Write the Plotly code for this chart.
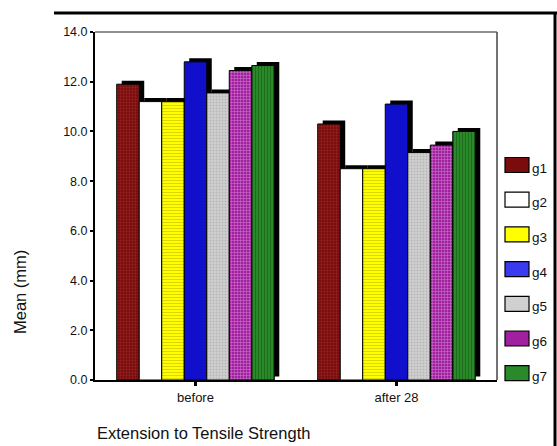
import plotly.graph_objects as go

categories = ["before", "after 28"]
groups = ["g1", "g2", "g3", "g4", "g5", "g6", "g7"]
g1 = [11.9, 10.3]
g2 = [11.2, 8.5]
g3 = [11.2, 8.5]
g4 = [12.8, 11.1]
g5 = [11.55, 9.15]
g6 = [12.45, 9.45]
g7 = [12.65, 10.0]
y_ticks = [0, 2, 4, 6, 8, 10, 12, 14]

series = [g1, g2, g3, g4, g5, g6, g7]
styles = [
    dict(color="#7a0c0c", pattern=dict(shape=".", fgcolor="#b04040", size=3, solidity=0.3)),
    dict(color="#ffffff", pattern=dict(shape="")),
    dict(color="#ffff00", pattern=dict(shape="-", fgcolor="#b8b000", size=3, solidity=0.35)),
    dict(color="#1010cc", pattern=dict(shape="")),
    dict(color="#d0d0d0", pattern=dict(shape=".", fgcolor="#989898", size=3, solidity=0.3)),
    dict(color="#a020a0", pattern=dict(shape="+", fgcolor="#f0c0f0", size=3, solidity=0.35)),
    dict(color="#2a8a2a", pattern=dict(shape="|", fgcolor="#105010", size=3, solidity=0.35)),
]

W, H = 557, 446
L, R, T, B = 95, 60, 32, 66
pw, ph = W - L - R, H - T - B

bw = 0.112            # bar width in category units
n = len(groups)
dx = 5.0 / (pw / 2)   # shadow offset, ~5px right
dy = 3.5 / (ph / 14)  # shadow offset, ~3.5px up

fig = go.Figure()
xs = list(range(len(categories)))

# shadows
for j, vals in enumerate(series):
    fig.add_trace(go.Bar(
        x=[i + (j - (n - 1) / 2) * bw + dx for i in xs],
        y=vals, base=[dy] * len(vals), width=bw,
        marker=dict(color="#000000", line=dict(width=0)),
        showlegend=False, hoverinfo="skip"))

# bars
for j, (name, vals) in enumerate(zip(groups, series)):
    fig.add_trace(go.Bar(
        x=[i + (j - (n - 1) / 2) * bw for i in xs],
        y=vals, width=bw, name=name,
        marker=dict(color=styles[j]["color"], pattern=styles[j]["pattern"],
                    line=dict(color="#000000", width=1)),
        showlegend=False))

fig.update_layout(
    width=W, height=H,
    margin=dict(l=L, r=R, t=T, b=B),
    barmode="overlay",
    paper_bgcolor="white", plot_bgcolor="white",
    font=dict(family="Liberation Sans, Arial, sans-serif", color="#111111"),
    xaxis=dict(range=[-0.5, len(categories) - 0.5], tickvals=xs, ticktext=categories,
               showline=True, linecolor="black", linewidth=2,
               ticks="outside", ticklen=4, tickwidth=3, tickcolor="black",
               showgrid=False, zeroline=False, tickfont=dict(size=13)),
    yaxis=dict(range=[0, 14], tickvals=y_ticks, tickformat=".1f",
               showline=True, linecolor="black", linewidth=2,
               ticks="outside", ticklen=3, tickwidth=2, tickcolor="black",
               showgrid=False, zeroline=False, tickfont=dict(size=12.5)),
    showlegend=False,
)

# plot area top/right border
fig.add_shape(type="line", xref="paper", yref="paper", x0=0, x1=1, y0=1, y1=1,
              line=dict(color="#222222", width=1))
fig.add_shape(type="line", xref="paper", yref="paper", x0=1, x1=1, y0=0, y1=1,
              line=dict(color="#444444", width=1.5))

# outer frame (top and right)
def px_x(p):
    return (p - L) / pw

def px_y(p):
    return (H - B - p) / ph

fig.add_shape(type="line", xref="paper", yref="paper",
              x0=px_x(54), x1=px_x(557), y0=px_y(13), y1=px_y(13),
              line=dict(color="black", width=3))
fig.add_shape(type="line", xref="paper", yref="paper",
              x0=px_x(555), x1=px_x(555), y0=px_y(13), y1=px_y(446),
              line=dict(color="black", width=3))

# legend (manual)
leg_top = 165
leg_step = 34.7
for j, name in enumerate(groups):
    cy = leg_top + j * leg_step
    fig.add_shape(type="rect", xref="paper", yref="paper",
                  x0=px_x(505), x1=px_x(529), y0=px_y(cy + 7.5), y1=px_y(cy - 7.5),
                  fillcolor=styles[j]["color"] if j != 3 else "#3a3af0",
                  line=dict(color="black", width=1.2))
    fig.add_annotation(xref="paper", yref="paper", x=px_x(530), y=px_y(cy + 3),
                       text=name, showarrow=False, xanchor="left", yanchor="middle",
                       font=dict(size=13.5, color="#111111"))

# axis titles
fig.add_annotation(xref="paper", yref="paper", x=px_x(95), y=px_y(433),
                   text="Extension to Tensile Strength", showarrow=False,
                   xanchor="left", yanchor="middle", font=dict(size=16.5, color="#111111"))
fig.add_annotation(xref="paper", yref="paper", x=px_x(20), y=px_y(292),
                   text="Mean (mm)", showarrow=False, textangle=-90,
                   xanchor="center", yanchor="middle", font=dict(size=16.5, color="#111111"))

fig.write_html(
    "out.html",
    config={"displayModeBar": False},
    post_script="document.body.style.margin='0';document.body.style.overflow='hidden';",
)
